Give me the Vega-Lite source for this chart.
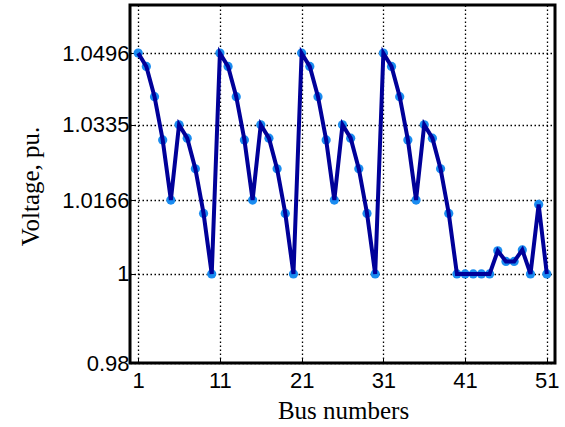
{
  "$schema": "https://vega.github.io/schema/vega-lite/v6.json",
  "autosize": {"type": "none"},
  "padding": {"left": 130, "top": 5, "right": 10, "bottom": 64},
  "width": 425,
  "height": 358,
  "background": "white",
  "config": {
    "view": {"stroke": "black", "strokeWidth": 3},
    "axis": {
      "grid": true,
      "gridColor": "black",
      "gridDash": [1.5, 2.5],
      "gridWidth": 1.3,
      "gridOpacity": 1,
      "domain": false,
      "tickColor": "black",
      "tickSize": -5,
      "tickWidth": 1,
      "labelFont": "Liberation Sans",
      "labelFontSize": 22,
      "labelColor": "black",
      "titleFont": "Liberation Serif",
      "titleFontSize": 25,
      "titleFontWeight": "normal",
      "titleColor": "black"
    }
  },
  "data": {
    "values": [
      {"bus": 1, "v": 1.0496}, {"bus": 2, "v": 1.0466}, {"bus": 3, "v": 1.0398}, {"bus": 4, "v": 1.0301}, {"bus": 5, "v": 1.0166},
      {"bus": 6, "v": 1.0335}, {"bus": 7, "v": 1.0305}, {"bus": 8, "v": 1.0236}, {"bus": 9, "v": 1.0136}, {"bus": 10, "v": 1.0},
      {"bus": 11, "v": 1.0496}, {"bus": 12, "v": 1.0466}, {"bus": 13, "v": 1.0398}, {"bus": 14, "v": 1.0301}, {"bus": 15, "v": 1.0166},
      {"bus": 16, "v": 1.0335}, {"bus": 17, "v": 1.0305}, {"bus": 18, "v": 1.0236}, {"bus": 19, "v": 1.0136}, {"bus": 20, "v": 1.0},
      {"bus": 21, "v": 1.0496}, {"bus": 22, "v": 1.0466}, {"bus": 23, "v": 1.0398}, {"bus": 24, "v": 1.0301}, {"bus": 25, "v": 1.0166},
      {"bus": 26, "v": 1.0335}, {"bus": 27, "v": 1.0305}, {"bus": 28, "v": 1.0236}, {"bus": 29, "v": 1.0136}, {"bus": 30, "v": 1.0},
      {"bus": 31, "v": 1.0496}, {"bus": 32, "v": 1.0466}, {"bus": 33, "v": 1.0398}, {"bus": 34, "v": 1.0301}, {"bus": 35, "v": 1.0166},
      {"bus": 36, "v": 1.0335}, {"bus": 37, "v": 1.0305}, {"bus": 38, "v": 1.0236}, {"bus": 39, "v": 1.0136}, {"bus": 40, "v": 1.0},
      {"bus": 41, "v": 1.0}, {"bus": 42, "v": 1.0}, {"bus": 43, "v": 1.0}, {"bus": 44, "v": 1.0}, {"bus": 45, "v": 1.0052},
      {"bus": 46, "v": 1.0028}, {"bus": 47, "v": 1.0028}, {"bus": 48, "v": 1.0054}, {"bus": 49, "v": 1.0}, {"bus": 50, "v": 1.0156},
      {"bus": 51, "v": 1.0}
    ]
  },
  "encoding": {
    "x": {
      "field": "bus", "type": "quantitative",
      "scale": {"domain": [0, 52], "nice": false, "zero": false},
      "axis": {"values": [1, 11, 21, 31, 41, 51], "title": "Bus numbers", "labelPadding": 12, "titleX": 213, "titleY": 55, "titleBaseline": "alphabetic", "titleAlign": "center"}
    },
    "y": {
      "field": "v", "type": "quantitative",
      "scale": {"domain": [0.98, 1.0604], "nice": false, "zero": false},
      "axis": {"values": [0.98, 1, 1.0166, 1.0335, 1.0496], "format": ".4~f", "title": "Voltage, pu.", "labelPadding": 6, "titleX": -100, "titleY": 181, "titleBaseline": "middle", "titleAlign": "center", "titleAngle": -90}
    }
  },
  "layer": [
    {"mark": {"type": "point", "filled": true, "color": "#1a8cf0", "size": 85, "opacity": 1}},
    {"mark": {"type": "line", "color": "#000099", "strokeWidth": 4}}
  ]
}
